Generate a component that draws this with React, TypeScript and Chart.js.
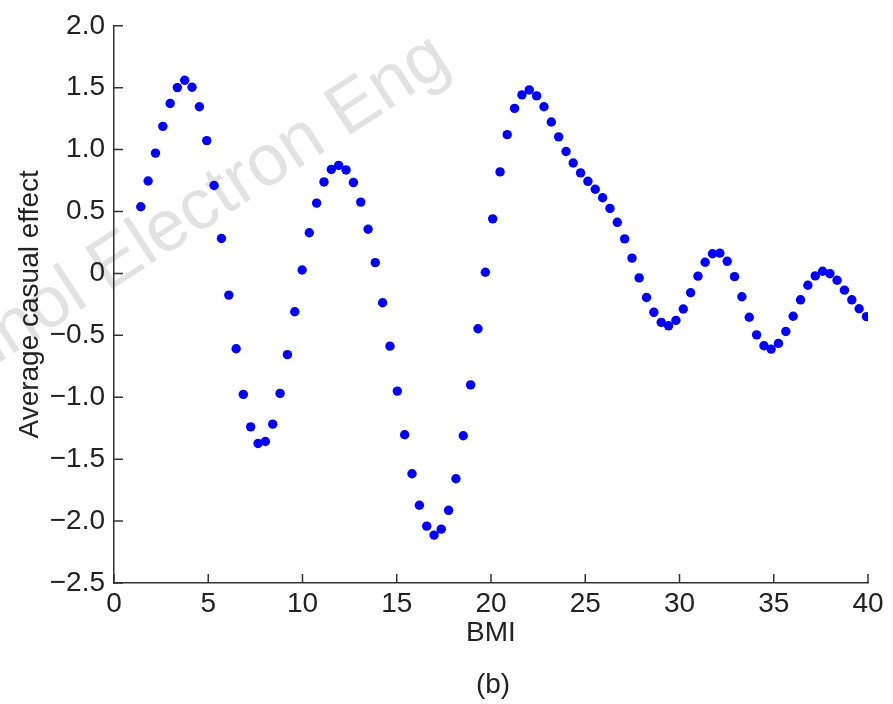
import { useEffect, useRef } from 'react';
import { Chart, registerables } from 'chart.js';

Chart.register(...registerables);

const bmi = [
  1.42, 1.81, 2.2, 2.59, 2.98, 3.36, 3.75, 4.14, 4.53, 4.92,
  5.31, 5.7, 6.09, 6.48, 6.86, 7.25, 7.64, 8.03, 8.42, 8.81,
  9.2, 9.59, 9.98, 10.36, 10.75, 11.14, 11.53, 11.92, 12.31, 12.7,
  13.09, 13.48, 13.86, 14.25, 14.64, 15.03, 15.42, 15.81, 16.2, 16.59,
  16.98, 17.36, 17.75, 18.14, 18.53, 18.92, 19.31, 19.7, 20.09, 20.48,
  20.86, 21.25, 21.64, 22.03, 22.42, 22.81, 23.2, 23.59, 23.98, 24.36,
  24.75, 25.14, 25.53, 25.92, 26.31, 26.7, 27.09, 27.48, 27.86, 28.25,
  28.64, 29.03, 29.42, 29.81, 30.2, 30.59, 30.98, 31.36, 31.75, 32.14,
  32.53, 32.92, 33.31, 33.7, 34.09, 34.48, 34.86, 35.25, 35.64, 36.03,
  36.42, 36.81, 37.2, 37.59, 37.98, 38.36, 38.75, 39.14, 39.53, 39.92,
];

const effect = [
  0.539, 0.747, 0.972, 1.188, 1.373, 1.501, 1.56, 1.504, 1.346, 1.073,
  0.71, 0.282, -0.175, -0.608, -0.977, -1.239, -1.373, -1.357, -1.217, -0.969,
  -0.656, -0.309, 0.028, 0.329, 0.568, 0.739, 0.84, 0.873, 0.836, 0.734,
  0.576, 0.357, 0.087, -0.237, -0.587, -0.95, -1.303, -1.618, -1.872, -2.041,
  -2.113, -2.065, -1.913, -1.658, -1.311, -0.9, -0.447, 0.01, 0.441, 0.82,
  1.121, 1.333, 1.442, 1.482, 1.434, 1.346, 1.223, 1.103, 0.985, 0.892,
  0.812, 0.744, 0.68, 0.611, 0.525, 0.413, 0.279, 0.124, -0.036, -0.194,
  -0.314, -0.395, -0.423, -0.379, -0.287, -0.156, -0.022, 0.09, 0.159, 0.164,
  0.098, -0.026, -0.188, -0.354, -0.496, -0.584, -0.611, -0.565, -0.469, -0.346,
  -0.213, -0.095, -0.02, 0.018, -0.002, -0.055, -0.135, -0.213, -0.285, -0.349,
];

const xTicks = [0, 5, 10, 15, 20, 25, 30, 35, 40];
const yTicks = [-2.5, -2.0, -1.5, -1.0, -0.5, 0, 0.5, 1.0, 1.5, 2.0];
const xTitle = 'BMI';
const yTitle = 'Average casual effect';
const caption = '(b)';
const watermark = 'Technol Electron Eng';

const FONT_FAMILY = '"Liberation Sans", Arial, Helvetica, sans-serif';
const TEXT_COLOR = '#222222';
const AXIS_COLOR = '#333333';

const fmtY = (v: number) => {
  if (v === 0) return '0';
  const s = Math.abs(v).toFixed(1);
  return v < 0 ? '\u2212' + s : s;
};

const extrasPlugin = {
  id: 'extras',
  beforeDraw(chart: any) {
    const ctx = chart.ctx;
    ctx.save();
    ctx.translate(453, 68);
    ctx.rotate((-33 * Math.PI) / 180);
    ctx.font = `72px ${FONT_FAMILY}`;
    ctx.fillStyle = 'rgb(226,226,226)';
    ctx.textAlign = 'right';
    ctx.textBaseline = 'alphabetic';
    ctx.fillText(watermark, 0, 0);
    ctx.restore();
  },
  afterDraw(chart: any) {
    const ctx = chart.ctx;
    const area = chart.chartArea;
    const xs = chart.scales.x;
    const ys = chart.scales.y;
    ctx.save();
    ctx.strokeStyle = AXIS_COLOR;
    ctx.lineWidth = 1.5;
    ctx.beginPath();
    xTicks.forEach((v) => {
      const px = xs.getPixelForValue(v);
      ctx.moveTo(px, area.bottom);
      ctx.lineTo(px, area.bottom - 9);
    });
    yTicks.forEach((v) => {
      const py = ys.getPixelForValue(v);
      ctx.moveTo(area.left, py);
      ctx.lineTo(area.left + 9, py);
    });
    ctx.stroke();
    ctx.font = `28px ${FONT_FAMILY}`;
    ctx.fillStyle = TEXT_COLOR;
    ctx.textAlign = 'center';
    ctx.textBaseline = 'middle';
    ctx.fillText(caption, (area.left + area.right) / 2 + 2, 685);
    ctx.restore();
  },
};

export default function App() {
  const canvasRef = useRef<HTMLCanvasElement | null>(null);

  useEffect(() => {
    const canvas = canvasRef.current;
    if (!canvas) return;
    const font = { family: FONT_FAMILY, size: 28 };
    const chart = new Chart(canvas, {
      type: 'scatter',
      data: {
        datasets: [
          {
            data: bmi.map((x, i) => ({ x, y: effect[i] })),
            pointRadius: 4.7,
            pointHoverRadius: 4.7,
            pointBackgroundColor: '#0000ff',
            pointBorderWidth: 0,
            pointBorderColor: '#0000ff',
          },
        ],
      },
      options: {
        responsive: false,
        animation: false,
        devicePixelRatio: 1,
        events: [],
        layout: { padding: { top: 22, right: 25, left: 0, bottom: 0 } },
        plugins: { legend: { display: false }, tooltip: { enabled: false } },
        scales: {
          x: {
            type: 'linear',
            min: 0,
            max: 40,
            afterBuildTicks: (s: any) => {
              s.ticks = xTicks.map((value) => ({ value }));
            },
            ticks: {
              callback: (v: any) => String(v),
              font,
              color: TEXT_COLOR,
              padding: 4,
              maxRotation: 0,
              autoSkip: false,
            },
            grid: { display: false, drawTicks: false },
            border: { display: true, color: AXIS_COLOR, width: 1.5 },
            title: {
              display: true,
              text: xTitle,
              font,
              color: TEXT_COLOR,
              padding: { top: 0, bottom: 54 },
            },
            afterFit: (s: any) => {
              s.height = 121;
            },
          },
          y: {
            type: 'linear',
            min: -2.5,
            max: 2,
            afterBuildTicks: (s: any) => {
              s.ticks = yTicks.map((value) => ({ value }));
            },
            ticks: {
              callback: (v: any) => fmtY(Number(v)),
              font,
              color: TEXT_COLOR,
              padding: 9,
              autoSkip: false,
            },
            grid: { display: false, drawTicks: false },
            border: { display: true, color: AXIS_COLOR, width: 1.5 },
            title: {
              display: true,
              text: yTitle,
              font,
              color: TEXT_COLOR,
              padding: { top: 13, bottom: 0 },
            },
            afterFit: (s: any) => {
              s.width = 114;
            },
          },
        },
      },
      plugins: [extrasPlugin],
    });
    return () => chart.destroy();
  }, []);

  return (
    <div style={{ position: 'absolute', left: 0, top: 0, width: 893, height: 704, background: '#fff' }}>
      <canvas ref={canvasRef} width={893} height={704} style={{ display: 'block' }} />
    </div>
  );
}
